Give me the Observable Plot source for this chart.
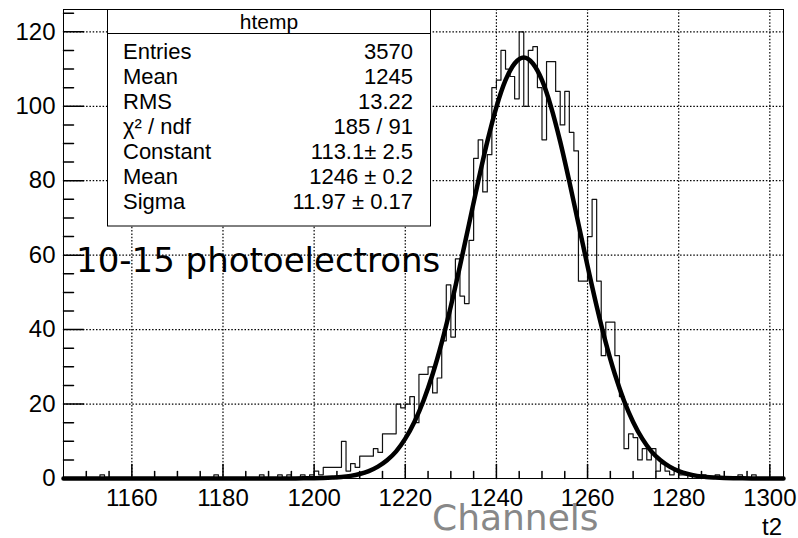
<!DOCTYPE html>
<html><head><meta charset="utf-8">
<script src="https://cdn.jsdelivr.net/npm/d3@7"></script>
<script src="https://cdn.jsdelivr.net/npm/@observablehq/plot@0.6"></script>
<style>
html,body{margin:0;padding:0;background:#fff;}
#chart{width:798px;height:538px;}
</style></head><body><div id="chart"></div>
<script>
// ---- axes / ticks ----
const xDomain = [1145, 1303];
const yDomain = [0, 126];
const xMajorTicks = [1160, 1180, 1200, 1220, 1240, 1260, 1280, 1300];
const yMajorTicks = [0, 20, 40, 60, 80, 100, 120];
const xMinorTicks = [1150, 1155, 1165, 1170, 1175, 1185, 1190, 1195, 1205, 1210, 1215, 1225, 1230, 1235, 1245, 1250, 1255, 1265, 1270, 1275, 1285, 1290, 1295];
const yMinorTicks = [5, 10, 15, 25, 30, 35, 45, 50, 55, 65, 70, 75, 85, 90, 95, 105, 110, 115, 125];

// ---- histogram (bin lower edge, bin width 1 channel) ----
const binLow = [1153, 1178, 1188, 1192, 1194, 1197, 1199,
  1200, 1201, 1202, 1203, 1204, 1205, 1206, 1207, 1208, 1209,
  1210, 1211, 1212, 1213, 1214, 1215, 1216, 1217, 1218, 1219,
  1220, 1221, 1222, 1223, 1224, 1225, 1226, 1227, 1228, 1229,
  1230, 1231, 1232, 1233, 1234, 1235, 1236, 1237, 1238, 1239,
  1240, 1241, 1242, 1243, 1244, 1245, 1246, 1247, 1248, 1249,
  1250, 1251, 1252, 1253, 1254, 1255, 1256, 1257, 1258, 1259,
  1260, 1261, 1262, 1263, 1264, 1265, 1266, 1267, 1268, 1269,
  1270, 1271, 1272, 1273, 1274, 1275, 1276, 1277, 1278, 1279,
  1280, 1281, 1283, 1285, 1288, 1293, 1296];
const counts = [1, 1, 1, 1, 1, 1, 1,
  2, 1, 3, 3, 3, 3, 10, 2, 4, 3,
  6, 6, 6, 8, 7, 12, 12, 12, 20, 19,
  20, 22, 15, 28, 28, 30, 23, 27, 37, 52,
  38, 59, 49, 47, 64, 86, 91, 77, 87, 105,
  107, 115, 110, 108, 102, 120, 100, 115, 116, 105,
  91, 112, 112, 104, 95, 104, 93, 88, 53, 53,
  65, 75, 53, 33, 42, 42, 33, 22, 8, 12,
  11, 5, 8, 5, 8, 2, 4, 2, 1, 2,
  1, 1, 1, 1, 1, 1, 1];

// ---- fitted gaussian curve, values ----
const fitX = [1145, 1196, 1198, 1200, 1202, 1204, 1206, 1208, 1210, 1212, 1214, 1216, 1218, 1220, 1222, 1224, 1226, 1228, 1230, 1232, 1234, 1236, 1238, 1240, 1242, 1244, 1246, 1248, 1250, 1252, 1254, 1256, 1258, 1260, 1262, 1264, 1266, 1268, 1270, 1272, 1274, 1276, 1278, 1280, 1282, 1284, 1286, 1288, 1290, 1292, 1294, 1296, 1303];
const fitY = [0, 0.02, 0.04, 0.07, 0.13, 0.24, 0.4, 0.7, 1.2, 2.0, 3.2, 4.9, 7.3, 10.7, 15.2, 20.9, 28.0, 36.5, 46.3, 57.1, 68.4, 79.8, 90.5, 99.8, 107.0, 111.5, 113.1, 111.5, 107.0, 99.8, 90.5, 79.8, 68.4, 57.1, 46.3, 36.5, 28.0, 20.9, 15.2, 10.7, 7.3, 4.9, 3.2, 2.0, 1.2, 0.7, 0.4, 0.24, 0.13, 0.07, 0.04, 0.02, 0];

// ---- stats box ----
const statsTitle = "htemp";
const statNames = ["Entries", "Mean", "RMS", "χ² / ndf", "Constant", "Mean", "Sigma"];
const statValues = ["3570", "1245", "13.22", "185 / 91", "113.1\u00b1 2.5", "1246 \u00b1 0.2", "11.97 \u00b1 0.17"];
const annotation = "10-15 photoelectrons";
const xTitle = "Channels";
const axisName = "t2";

// histogram outline as steps
const lookup = new Map(binLow.map((b, i) => [b, counts[i]]));
const steps = [];
for (let b = xDomain[0]; b < xDomain[1]; b++) steps.push({x: b, y: lookup.get(b) ?? 0});
steps.push({x: xDomain[1], y: steps[steps.length - 1].y});
const fit = fitX.map((x, i) => ({x, y: fitY[i]}));

const tickFont = "'Liberation Sans', Arial, Helvetica, sans-serif";
const dots = {stroke: "#000", strokeOpacity: 1, strokeWidth: 1.2, strokeDasharray: "1.5,1.8"};
const tickShape = {draw(context, l) { context.moveTo(0, 0); context.lineTo(0, -l); }};

const plot = Plot.plot({
  width: 798, height: 538,
  marginLeft: 63, marginRight: 15, marginTop: 9, marginBottom: 60,
  x: {domain: xDomain, label: null},
  y: {domain: yDomain, label: null},
  style: {fontFamily: tickFont, fontSize: "24px", color: "#000", background: "#fff", overflow: "visible"},
  marks: [
    Plot.line(steps, {x: "x", y: "y", curve: "step-after", stroke: "#111", strokeWidth: 1.2}),
    Plot.ruleY(yMajorTicks.filter(d => d > 0), dots),
    Plot.ruleX(xMajorTicks, dots),
    Plot.line(fit, {x: "x", y: "y", curve: "monotone-x", stroke: "#000", strokeWidth: 4.5}),
    Plot.vector(yMajorTicks, {y: d => d, frameAnchor: "left", length: 20, rotate: 90, anchor: "start", shape: tickShape, stroke: "#000"}),
    Plot.vector(yMinorTicks, {y: d => d, frameAnchor: "left", length: 10, rotate: 90, anchor: "start", shape: tickShape, stroke: "#000"}),
    Plot.vector(xMajorTicks, {x: d => d, frameAnchor: "bottom", length: 14, rotate: 0, anchor: "start", shape: tickShape, stroke: "#000"}),
    Plot.vector(xMinorTicks, {x: d => d, frameAnchor: "bottom", length: 7, rotate: 0, anchor: "start", shape: tickShape, stroke: "#000"}),
    Plot.axisY(yMajorTicks, {anchor: "left", tickSize: 0, tickPadding: 8, label: null, fontSize: 24}),
    Plot.axisX(xMajorTicks, {anchor: "bottom", tickSize: 0, tickPadding: 10, tickFormat: "d", label: null, fontSize: 24}),
    Plot.frame({stroke: "#000", strokeWidth: 1})
  ]
});
document.getElementById("chart").appendChild(plot);

// overlays: stats box and texts
const svg = d3.select(plot);
const g = svg.append("g").attr("font-family", tickFont).attr("fill", "#000").attr("text-anchor", "start");
g.append("rect").attr("x", 107.5).attr("y", 9.5).attr("width", 323).attr("height", 216.5)
  .attr("fill", "#fff").attr("stroke", "#000").attr("stroke-width", 1);
g.append("line").attr("x1", 107.5).attr("x2", 430.5).attr("y1", 33.5).attr("y2", 33.5)
  .attr("stroke", "#000").attr("stroke-width", 1);
g.append("text").attr("x", 269).attr("y", 29).attr("text-anchor", "middle").attr("font-size", 21).text(statsTitle);
statNames.forEach((n, i) => {
  const yb = 58.5 + i * 25.1;
  g.append("text").attr("x", 123).attr("y", yb).attr("text-anchor", "start").attr("font-size", 22).text(n);
  g.append("text").attr("x", 413).attr("y", yb).attr("text-anchor", "end").attr("font-size", 22).text(statValues[i]);
});
svg.append("text").attr("x", 76).attr("y", 272).attr("text-anchor", "start").attr("font-family", "'DejaVu Sans', sans-serif")
  .attr("font-size", 34).attr("fill", "#000").text(annotation);
svg.append("text").attr("x", 432).attr("y", 530).attr("text-anchor", "start").attr("font-family", "'DejaVu Sans', sans-serif")
  .attr("font-size", 36).attr("fill", "#888").text(xTitle);
svg.append("text").attr("x", 782).attr("y", 535).attr("text-anchor", "end").attr("font-family", tickFont)
  .attr("font-size", 24).attr("fill", "#000").text(axisName);
</script></body></html>
